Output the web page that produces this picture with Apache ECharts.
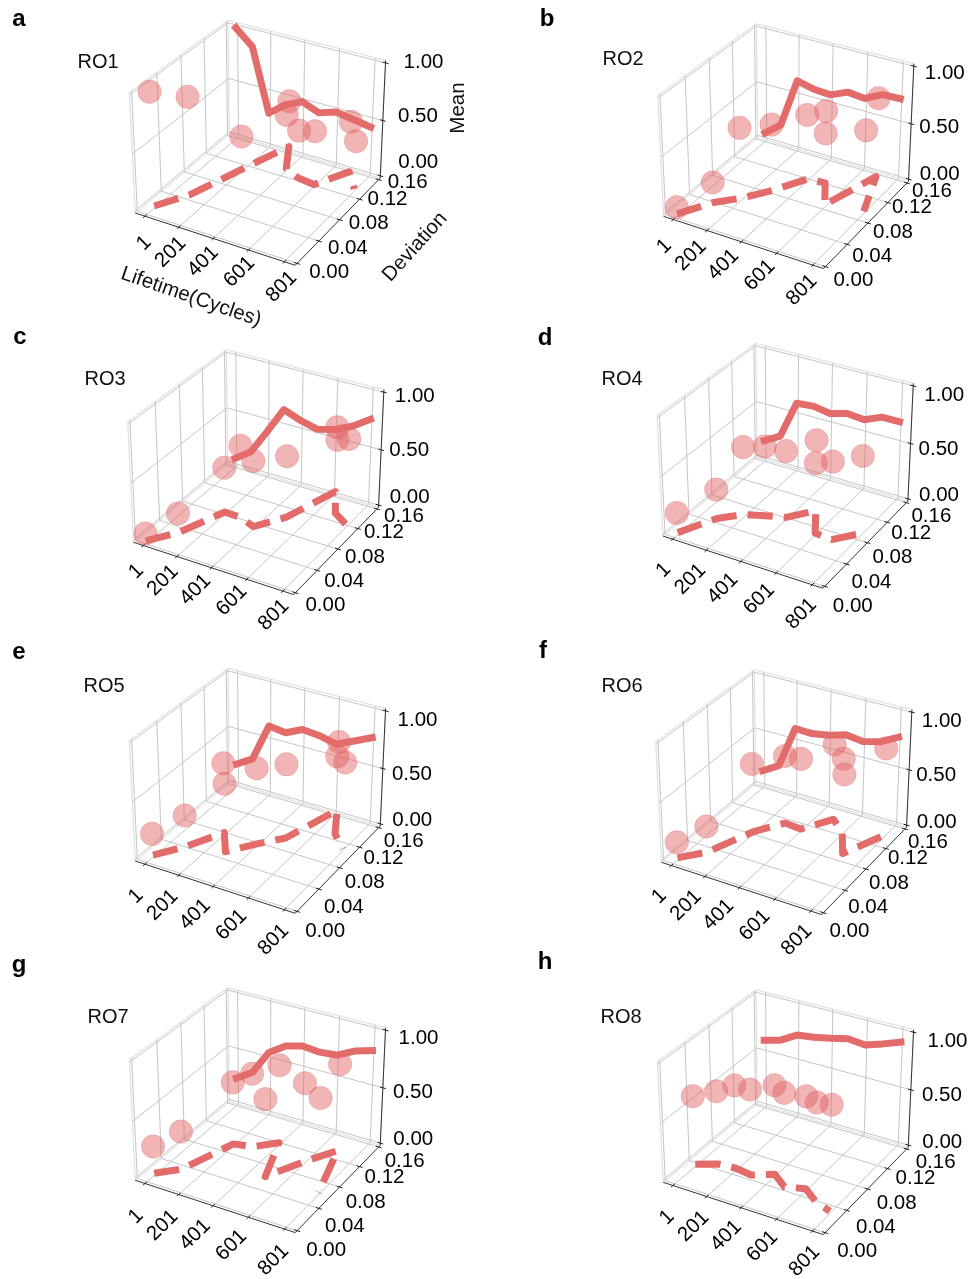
<!DOCTYPE html>
<html><head><meta charset="utf-8">
<style>html,body{margin:0;padding:0;background:#fff}#c{width:973px;height:1279px}</style>
<script src="https://cdn.jsdelivr.net/npm/echarts@6/dist/echarts.min.js"></script>
</head><body><div id="c"></div>
<script>
const cycles=[1,101,201,301,401,501,601,701,801];
const cycleTicks=[1,201,401,601,801];
const devTicks=[0,0.04,0.08,0.12,0.16];
const meanTicks=[0,0.5,1];
const devTickLabels=['0.00','0.04','0.08','0.12','0.16'];
const meanTickLabels=['0.00','0.50','1.00'];
const letters=['a','b','c','d','e','f','g','h'];
const names=['RO1','RO2','RO3','RO4','RO5','RO6','RO7','RO8'];
const mean1=[.99,.86,.30,.42,.49,.43,.48,.455,.43];
const mean2=[.06,.18,.625,.59,.58,.645,.63,.705,.71];
const mean3=[.067,.172,.40,.64,.583,.545,.585,.655,.757];
const mean4=[.175,.26,.60,.615,.59,.63,.615,.68,.68];
const mean5=[.19,.28,.62,.60,.67,.655,.62,.69,.76];
const mean6=[.14,.23,.61,.605,.63,.675,.655,.695,.775];
const mean7=[.24,.335,.555,.655,.695,.68,.695,.77,.815];
const mean8=[.605,.645,.73,.75,.78,.815,.80,.85,.905];
const dev1=[.012,.045,.108,.168,.13,.121,.118,.155,.13];
const dev2=[.003,.036,.055,.081,.115,.118,.084,.152,.092];
const dev3=[.001,.028,.08,.079,.071,.101,.165,.13,.117];
const dev4=[.005,.0435,.062,.07,.077,.101,.067,.065,.087];
const dev5=[.01,.037,.076,.048,.074,.0965,.165,.126,.106];
const dev6=[.007,.029,.08,.109,.107,.138,.122,.089,.135];
const dev7=[.012,.031,.0926,.097,.116,.058,.098,.131,.059];
const dev8=[.034,.045,.047,.044,.056,.042,.049,.035,.028];
const means=[mean1,mean2,mean3,mean4,mean5,mean6,mean7,mean8];
const devs=[dev1,dev2,dev3,dev4,dev5,dev6,dev7,dev8];

// panel layout: centre of each projection in page pixels
const centers=[[260,137],[788.3,140.3],[258.3,466.3],[787.7,460],[260,785],[786.3,786.3],[260,1104.3],[788,1106.3]];
const lettersPos=[[19,19],[547,19],[20,337],[545,338],[19,652],[543,651],[19,965],[545,962]];
const namePos=[[98,62],[623,59],[105,379],[622,379],[104,686],[622,686],[108,1017],[621,1017]];
const xShift=[[7,0],[-1,0],[1,-1],[-1,4],[-1,5],[-4,4],[-1,6],[2,5]];
const yShift=[[4,-4],[0,1],[2,0],[0,7],[0,7],[-2,6],[1,7],[4,6]];
const zShift=[[7,-10],[0,-2],[0,-5],[0,0],[1,0],[-1,0],[2,-1],[3,0]];
const xBase=[[-8,27],[-15,25],[-17,23],[-16,22],[-10,25]];
const yBase=[[28,13],[25,11],[25,8],[24,4],[25,7]];
const zBase=[[31,-3],[28,6],[31,9]];
const S=154, R=0.88;

// 3D camera (elev 30, azim -60, distance 10, box aspect 4:4:3)
const xLim=[-39,841],yLim=[0,0.16],zLim=[0,1];
const BOX=[1.1424,1.1424,0.857];
function proj(x,y,z){
  const px=(x-(xLim[0]+xLim[1])/2)/(xLim[1]-xLim[0])*BOX[0];
  const py=(y-(yLim[0]+yLim[1])/2)/(yLim[1]-yLim[0])*BOX[1];
  const pz=(z-(zLim[0]+zLim[1])/2)/(zLim[1]-zLim[0])*BOX[2];
  const c=Math.cos(Math.PI/6),s=0.5;
  const r=.8660254*px+.5*py;
  const u=-.5*s*px+.8660254*s*py+c*pz;
  const v=.5*c*px-.8660254*c*py+s*pz;
  const w=1-v/10;
  return [r/w,u/w];
}
const ext=(l)=>(l[1]-l[0])/48;
const X0=xLim[0]-ext(xLim),X1=xLim[1]+ext(xLim);
const Y0=yLim[0]-ext(yLim),Y1=yLim[1]+ext(yLim);
const Z0=zLim[0]-ext(zLim),Z1=zLim[1]+ext(zLim);
const BRK=['-','-'];
function segs(list){const out=[];list.forEach(a=>{out.push(proj(...a[0]),proj(...a[1]),BRK)});return out;}
const gridSegs=[];
cycleTicks.forEach(t=>{gridSegs.push([[t,Y0,Z0],[t,Y1,Z0]],[[t,Y1,Z0],[t,Y1,Z1]]);});
devTicks.forEach(t=>{gridSegs.push([[X0,t,Z0],[X1,t,Z0]],[[X0,t,Z0],[X0,t,Z1]]);});
meanTicks.forEach(t=>{gridSegs.push([[X0,Y0,t],[X0,Y1,t]],[[X0,Y1,t],[X1,Y1,t]]);});
const paneSegs=[
 [[X0,Y0,Z0],[X0,Y0,Z1]],[[X0,Y0,Z1],[X0,Y1,Z1]],[[X0,Y1,Z1],[X1,Y1,Z1]],[[X1,Y1,Z1],[X1,Y1,Z0]],
 [[X0,Y1,Z0],[X0,Y1,Z1]],[[X0,Y1,Z0],[X1,Y1,Z0]],[[X0,Y0,Z0],[X0,Y1,Z0]]];
const axisSegs=[[[X0,Y0,Z0],[X1,Y0,Z0]],[[X1,Y0,Z0],[X1,Y1,Z0]],[[X1,Y1,Z0],[X1,Y1,Z1]]];
const tickSegs=[];
const dy=(Y1-Y0)*0.018,dx=(X1-X0)*0.018;
cycleTicks.forEach(t=>tickSegs.push([[t,Y0-dy,Z0],[t,Y0+dy,Z0]]));
devTicks.forEach(t=>tickSegs.push([[X1-dx,t,Z0],[X1+dx,t,Z0]]));
meanTicks.forEach(t=>tickSegs.push([[X1-dx,Y1,t],[X1+dx,Y1,t]]));

const RED='#E36C6A';
const grid=[],xAxis=[],yAxis=[],series=[],graphic=[];
function lineS(i,data,color,width,z){
  return {type:'line',xAxisIndex:i,yAxisIndex:i,data,showSymbol:false,symbol:'none',silent:true,connectNulls:false,clip:false,z,
    lineStyle:{color,width,cap:'butt'},animation:false};
}
function labelS(i,items,rot,size){
  return {type:'scatter',xAxisIndex:i,yAxisIndex:i,symbolSize:1,silent:true,clip:false,z:6,itemStyle:{color:'rgba(255,255,255,0)'},
    data:items.map(o=>({name:o.t,value:o.p})),
    label:{show:true,formatter:'{b}',position:'inside',rotate:rot,align:'center',verticalAlign:'middle',color:'#000',opacity:1,textBorderWidth:0,fontFamily:'Liberation Sans',fontSize:size},animation:false};
}
means.forEach((m,i)=>{
  const [cx,cy]=centers[i];
  const H=S*R;
  grid.push({left:cx-H,top:cy-H,width:2*H,height:2*H,containLabel:false});
  xAxis.push({type:'value',gridIndex:i,min:-R,max:R,show:false});
  yAxis.push({type:'value',gridIndex:i,min:-R,max:R,show:false});
  series.push(lineS(i,segs(paneSegs),'#e2e2e2',1.3,1));
  series.push(lineS(i,segs(gridSegs),'#c6c6c6',1,1));
  series.push(lineS(i,segs(axisSegs),'#333',1,2));
  series.push(lineS(i,segs(tickSegs),'#222',1,2));
  const d=devs[i];
  series.push({type:'scatter',xAxisIndex:i,yAxisIndex:i,symbolSize:23.5,silent:true,clip:false,z:3,
    data:cycles.map((c,k)=>proj(c,d[k],m[k])),
    itemStyle:{color:'rgba(224,96,96,0.58)',borderColor:'rgba(224,96,96,0.3)',borderWidth:1},animation:false});
  const solid=lineS(i,cycles.map((c,k)=>proj(c,yLim[1],m[k])),RED,7,4);
  solid.lineStyle.cap='square';
  solid.lineStyle.join='round';
  series.push(solid);
  const dash=lineS(i,cycles.map((c,k)=>proj(c,d[k],0)),RED,7,4);
  dash.lineStyle.type=[25.3,11];
  dash.lineStyle.join='round';
  series.push(dash);
  const off=(p,o,sh)=>[p[0]+(o[0]+sh[0])/S,p[1]-(o[1]+sh[1])/S];
  series.push(labelS(i,cycleTicks.map((t,k)=>({t:String(t),p:off(proj(t,Y0,Z0),xBase[k],xShift[i])})),45,20.5));
  series.push(labelS(i,devTicks.map((t,k)=>({t:devTickLabels[k],p:off(proj(X1,t,Z0),yBase[k],yShift[i])})),0,20.5));
  series.push(labelS(i,meanTicks.map((t,k)=>({t:meanTickLabels[k],p:off(proj(X1,Y1,t),zBase[k],zShift[i])})),0,20.5));
  graphic.push({type:'text',x:lettersPos[i][0],y:lettersPos[i][1],style:{text:letters[i],align:'center',verticalAlign:'middle',fontFamily:'Liberation Sans',fontWeight:'bold',fontSize:24,fill:'#000'}});
  graphic.push({type:'text',x:namePos[i][0],y:namePos[i][1],style:{text:names[i],align:'center',verticalAlign:'middle',fontFamily:'Liberation Sans',fontSize:20,fill:'#111'}});
});
const axT=(text,x,y,deg)=>({type:'text',x,y,rotation:deg*Math.PI/180,style:{text,align:'center',verticalAlign:'middle',fontFamily:'Liberation Sans',fontSize:20.5,fill:'#111'}});
graphic.push(axT('Mean',458,108,90),axT('Deviation',415,247,48),axT('Lifetime(Cycles)',191,297,-19));
const chart=echarts.init(document.getElementById('c'),null,{renderer:'canvas'});
chart.setOption({animation:false,backgroundColor:'#fff',grid,xAxis,yAxis,series,graphic});
</script></body></html>
